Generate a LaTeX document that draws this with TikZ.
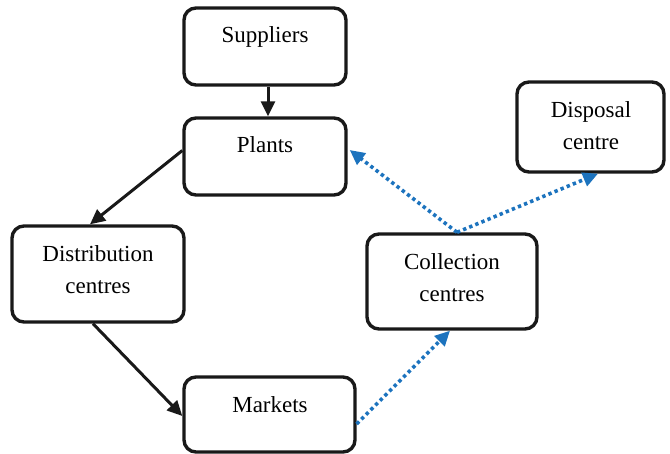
\documentclass[tikz,border=0pt]{standalone}
\usepackage{fontspec}
\setmainfont{Liberation Serif}
\usetikzlibrary{arrows.meta,calc}
\definecolor{flowblue}{RGB}{28,115,190}
\tikzset{
  box/.style={draw=black!90, line width=3.4pt, rounded corners=12pt, inner sep=0pt},
  lbl/.style={font=\fontsize{23}{32}\selectfont, anchor=base, inner sep=0pt, align=center},
  blk/.style={draw=black!90, line width=3pt, -{Triangle[length=15pt,width=14pt]}},
  blu/.style={draw=flowblue, line width=3.6pt, dash pattern=on 3.4pt off 3.2pt, -{Triangle[length=15pt,width=14pt]}}
}
\begin{document}
\begin{tikzpicture}[x=1pt,y=-1pt]
\useasboundingbox (0,0) rectangle (670,454);
\node[box, minimum width=162pt, minimum height=77pt] (sup) at (265,46.5) {};
\node[box, minimum width=162pt, minimum height=77pt] (pl) at (265,156.5) {};
\node[box, minimum width=172pt, minimum height=96pt] (dist) at (98,274) {};
\node[box, minimum width=171pt, minimum height=75pt] (mk) at (269.5,414.5) {};
\node[box, minimum width=170pt, minimum height=95pt] (col) at (452,281.5) {};
\node[box, minimum width=147pt, minimum height=90pt] (disp) at (590.5,127) {};
\node[lbl] (tsup) at (265,43) {Suppliers};
\node[lbl] (tpl) at (265,153) {Plants};
\node[lbl] (tdist) at (98,294) {Distribution\\centres};
\node[lbl] (tmk) at (270,413) {Markets};
\node[lbl] (tcol) at (452,302) {Collection\\centres};
\node[lbl] (tdisp) at (591,150) {Disposal\\centre};
\draw[blk] ([xshift=3pt]sup.south) -- ([xshift=3pt]pl.north);
\draw[blk] ([yshift=6pt]pl.west) -- ([xshift=-8pt]dist.north);
\draw[blk] ([xshift=-5pt]dist.south) -- ([yshift=-1.5pt]mk.west);
\draw[blu] ([yshift=-9.5pt]mk.east) -- ([xshift=-2pt]col.south);
\draw[blu] ([xshift=5pt]col.north) -- ([xshift=2pt,yshift=6.5pt]pl.east);
\draw[blu] ([xshift=5pt]col.north) -- ([xshift=7.5pt]disp.south);
\end{tikzpicture}
\end{document}
